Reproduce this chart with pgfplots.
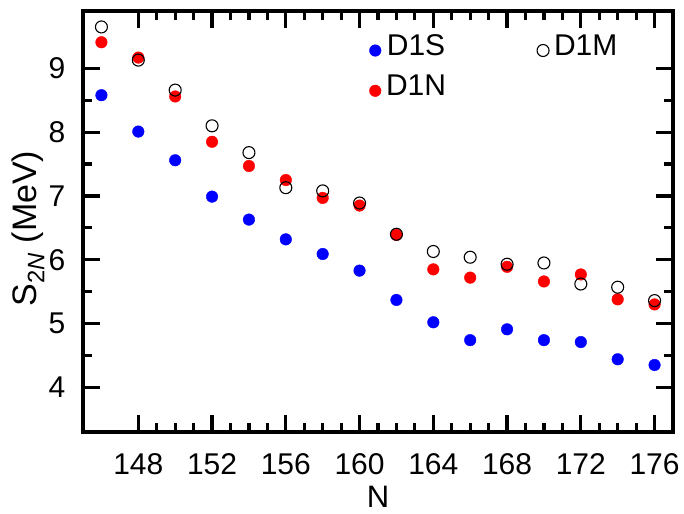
\documentclass[border=0pt]{standalone}
\usepackage{pgfplots}
\pgfplotsset{compat=1.18}
\usepackage{fontspec}
\setmainfont{Liberation Sans}
\definecolor{myblue}{RGB}{0,0,255}
\definecolor{myred}{RGB}{255,0,0}
\begin{document}
\begin{tikzpicture}
\path[use as bounding box] (-83bp,-82bp) rectangle (601bp,432bp);
\begin{axis}[
  scale only axis,
  width=590bp, height=421bp,
  xmin=145, xmax=177, ymin=3.3, ymax=9.9,
  xtick={148,152,...,176}, minor x tick num=3,
  ytick={4,5,...,9}, minor y tick num=1,
  tick align=inside,
  major tick length=17bp, minor tick length=9bp,
  every axis/.append style={line width=3.2bp},
  tick style={line width=3.2bp, black},
  major tick style={line width=3.2bp, black},
  minor tick style={line width=3.2bp, black},
  axis line style={line width=3.2bp, black},
  font=\fontsize{30bp}{36bp}\selectfont,
  /pgf/number format/assume math mode=true,
  /pgf/number format/.cd, 1000 sep={}, /pgfplots/.cd,
  xticklabel style={inner sep=0pt, yshift=-20bp},
  yticklabel style={inner sep=0pt, xshift=-16bp},
  xlabel={N},
  ylabel={S\textsubscript{2\textit{N}} (MeV)},
  xlabel style={at={(axis description cs:0.5,0)}, anchor=north, inner sep=0pt, yshift=-53bp, font=\fontsize{31bp}{37bp}\selectfont},
  ylabel style={at={(axis description cs:-0.1237,0.4834)}, anchor=north, inner sep=0pt, font=\fontsize{34bp}{40bp}\selectfont},
  legend style={draw=none, fill=none, inner sep=0pt, at={(axis cs:160.45,9.56)}, anchor=north west,
    font=\fontsize{30bp}{36bp}\selectfont, row sep=18bp,
    nodes={inner sep=0pt},
    /tikz/every odd column/.append style={column sep=5bp},
    /tikz/every even column/.append style={column sep=91bp}},
  legend columns=2,
  legend image code/.code={\draw[#1] plot[only marks] coordinates {(6bp,-5bp)};},
]
\addplot[only marks, mark=*, mark size=5.8bp, line width=0.4bp, mark options={draw=myblue, fill=myblue, line width=0.4bp}, forget plot] coordinates {
(146,8.58) (148,8.01) (150,7.56) (152,6.99) (154,6.63) (156,6.32) (158,6.09) (160,5.83)
(162,5.37) (164,5.02) (166,4.74) (168,4.91) (170,4.74) (172,4.71) (174,4.44) (176,4.35)};
\addplot[only marks, mark=*, mark size=5.8bp, line width=0.4bp, mark options={draw=myred, fill=myred, line width=0.4bp}, forget plot] coordinates {
(146,9.41) (148,9.17) (150,8.56) (152,7.85) (154,7.47) (156,7.25) (158,6.97) (160,6.85)
(162,6.39) (164,5.85) (166,5.72) (168,5.89) (170,5.66) (172,5.77) (174,5.38) (176,5.30)};
\addplot[only marks, mark=o, mark size=6bp, line width=1.1bp, mark options={draw=black, line width=1.1bp, fill=none}, forget plot] coordinates {
(146,9.65) (148,9.13) (150,8.66) (152,8.10) (154,7.68) (156,7.13) (158,7.08) (160,6.89)
(162,6.40) (164,6.13) (166,6.04) (168,5.93) (170,5.95) (172,5.62) (174,5.57) (176,5.36)};
\addlegendimage{only marks, mark=*, mark size=5.8bp, line width=0.4bp, mark options={draw=myblue, fill=myblue, line width=0.4bp}}
\addlegendentry{D1S}
\addlegendimage{only marks, mark=o, mark size=6bp, line width=1.1bp, mark options={draw=black, line width=1.1bp, fill=none}}
\addlegendentry{D1M}
\addlegendimage{only marks, mark=*, mark size=5.8bp, line width=0.4bp, mark options={draw=myred, fill=myred, line width=0.4bp}}
\addlegendentry{D1N}
\end{axis}
\end{tikzpicture}
\end{document}
